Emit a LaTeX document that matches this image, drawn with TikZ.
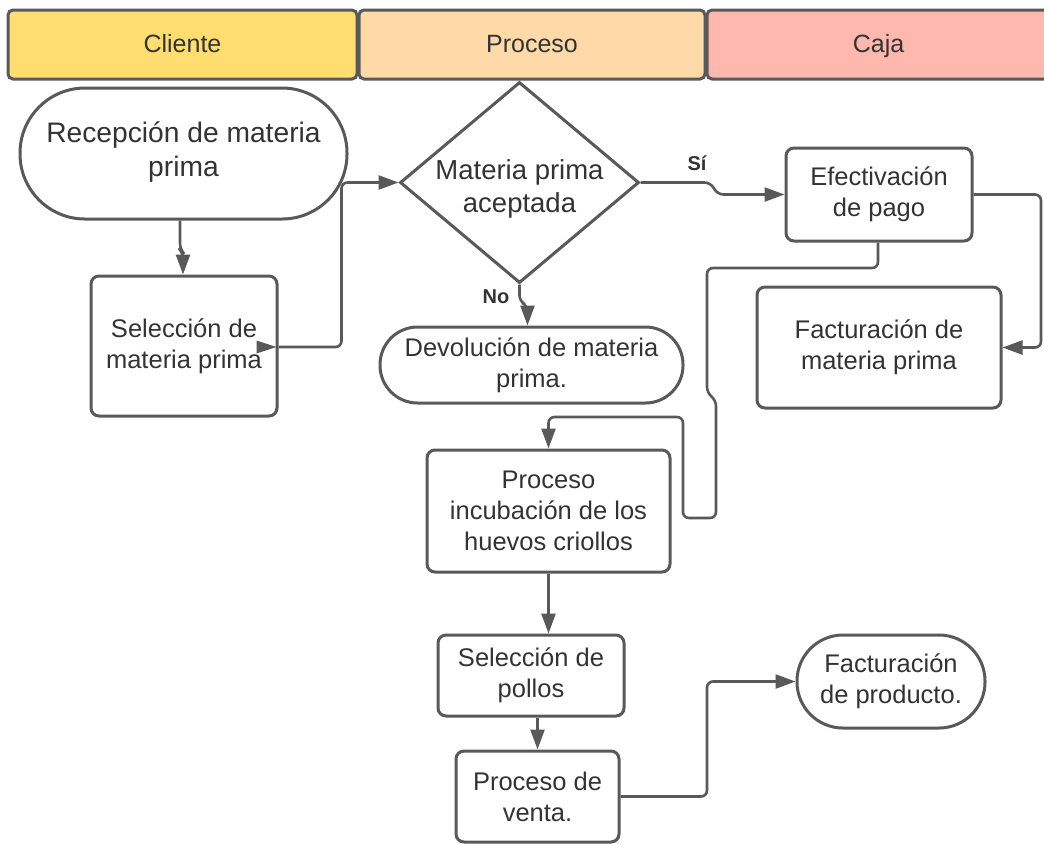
\documentclass[tikz,border=0pt]{standalone}
\usepackage{fontspec}
\setmainfont{Liberation Sans}
\usetikzlibrary{shapes.geometric,arrows.meta,calc}
\definecolor{edge}{HTML}{595959}
\definecolor{txt}{HTML}{333333}
\definecolor{cli}{HTML}{FFDD71}
\definecolor{pro}{HTML}{FFDAA8}
\definecolor{caj}{HTML}{FFB8AE}
\begin{document}
\begin{tikzpicture}[x=0.5pt,y=-0.5pt,
 every node/.style={text=txt, align=center, font=\fontsize{12.75}{15.5}\selectfont},
 lane/.style={draw=edge, line width=1.5pt, rounded corners=2.5pt, minimum height=34.5pt, inner sep=0pt, text height=0.72em, text depth=0.2em},
 lanetxt/.style={text height=0.72em, text depth=0.2em, font=\fontsize{12.5}{15}\selectfont},
 box/.style={draw=edge, line width=1.5pt, rounded corners=4pt, fill=white, inner sep=0pt},
 term/.style={draw=edge, line width=1.5pt, fill=white, inner sep=0pt},
 dia/.style={draw=edge, line width=1.5pt, diamond, fill=white, inner sep=0pt},
 conn/.style={draw=edge, line width=1.3pt, rounded corners=3pt, -{Triangle[length=10pt,width=7pt]}},
 lbl/.style={font=\bfseries\fontsize{10}{12}\selectfont}
]
\useasboundingbox (0,0) rectangle (1044,843);

% lanes
\node[lane, fill=cli, minimum width=174.5pt] (lcli) at (182.5,44.5) {};
\node[lane, fill=pro, minimum width=173pt] (lpro) at (532,44.5) {};
\node[lane, fill=caj, minimum width=171.5pt] (lcaj) at (878.5,44.5) {};
\node[lanetxt] (tcli) at (182.5,47) {Cliente};
\node[lanetxt] (tpro) at (532,47) {Proceso};
\node[lanetxt] (tcaj) at (878.5,47) {Caja};

% nodes
\node[term, rounded corners=32.5pt, minimum width=163.5pt, minimum height=65.5pt] (recep) at (183.5,153.5) {};
\node[font=\fontsize{14.1}{17}\selectfont] (receptxt) at (183.5,152) {Recepción de materia\\prima};
\node[box, minimum width=93pt, minimum height=70pt] (selmp) at (184,346) {Selección de\\materia prima};
\node[dia, minimum width=119.5pt, minimum height=100.5pt] (dia) at (519.5,182.5) {};
\node[font=\fontsize{13.75}{16.5}\selectfont] (diatxt) at (519.5,189) {Materia prima\\aceptada};
\node[box, minimum width=93pt, minimum height=46.5pt] (efec) at (879,194.5) {Efectivación\\de pago};
\node[box, minimum width=122pt, minimum height=60.5pt] (factmp) at (879,347.5) {Facturación de\\materia prima};
\node[term, rounded corners=18.8pt, minimum width=151.5pt, minimum height=38pt] (devol) at (531.5,365) {Devolución de materia\\prima.};
\node[box, minimum width=121.5pt, minimum height=61pt] (incub) at (548.5,511) {Proceso\\incubación de los\\huevos criollos};
\node[box, minimum width=93pt, minimum height=40.5pt] (pollos) at (531,675.5) {Selección de\\pollos};
\node[box, minimum width=81.5pt, minimum height=45.5pt] (venta) at (537.5,796.5) {Proceso de\\venta.};
\node[term, rounded corners=23pt, minimum width=94pt, minimum height=46.5pt] (factprod) at (891,681.5) {Facturación\\de producto.};

% connectors
\draw[conn] ([xshift=-1.75pt]recep.south) -- ++(0,29) -- ++(3,3) -- ([xshift=-0.5pt]selmp.north);
\draw[conn] ([yshift=-0.5pt]selmp.east) -- ++(63,0) |- (dia.west);
\fill[edge] ([xshift=-1pt,yshift=-0.5pt]selmp.east) -- ++(-20,-6.5) -- ++(0,13) -- cycle;
\draw[conn] (dia.east) -- ++(70,0) -- ++(7,12) -- (efec.west);
\node[lbl] (si) at (697,163) {Sí};
\draw[conn] (dia.south) -- ++(0,17) -- ++(8,4) -- ([xshift=-2pt]devol.north);
\node[lbl] (no) at (496,297) {No};
\draw[conn] ([xshift=-0.5pt]efec.south) -- (878,268) -- (707,268) -- (707,393) -- (716,400) -- (716,518) -- (683,518) -- (683,417) -- (548.5,417) -- (incub.north);
\draw[conn] (efec.east) -- (1041,194.5) |- (factmp.east);
\draw[conn] (incub.south) -- (incub.south |- pollos.north);
\draw[conn] (venta.north |- pollos.south) -- (venta.north);
\draw[conn] (venta.east) -- (707,796.5) |- (factprod.west);
\end{tikzpicture}
\end{document}
